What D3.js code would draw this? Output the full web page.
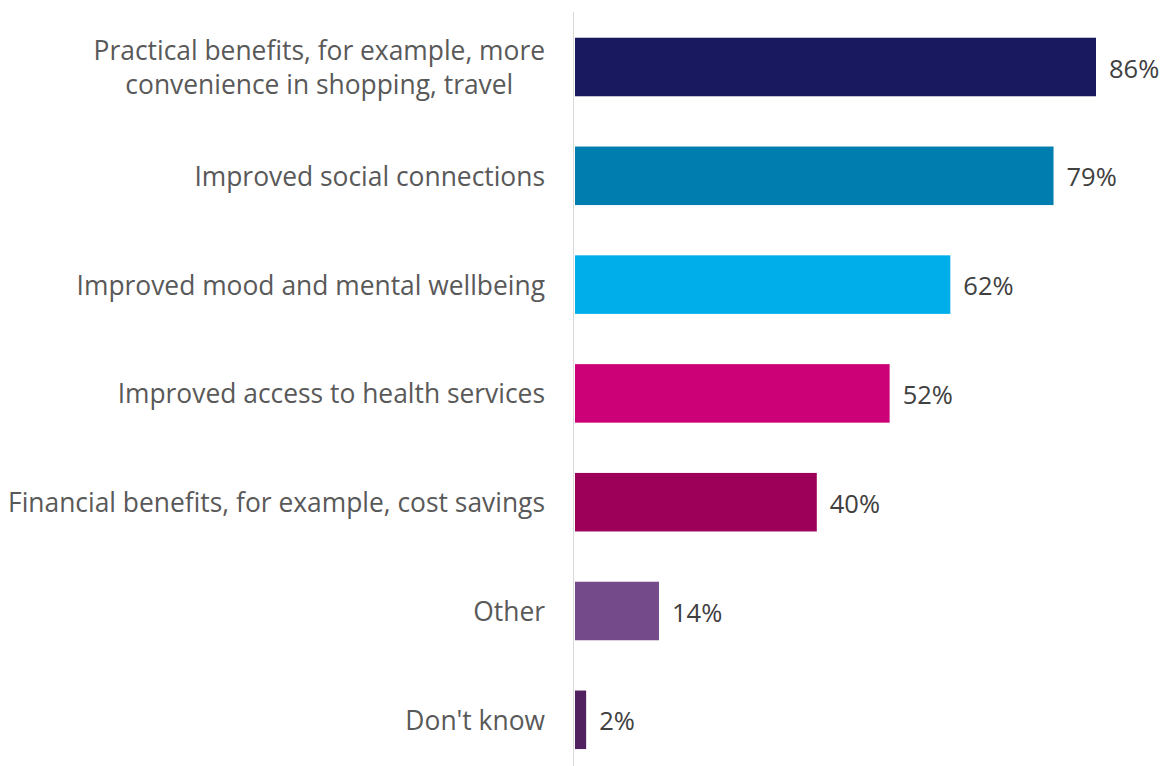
<!DOCTYPE html>
<html><head><meta charset="utf-8">
<script src="https://cdn.jsdelivr.net/npm/d3@7"></script>
<style>html,body{margin:0;padding:0;background:#fff;}svg{display:block;}</style>
</head><body>
<svg id="chart" width="1167" height="766"></svg>
<script>
const categories = [
  ["Practical benefits, for example, more", "convenience in shopping, travel"],
  ["Improved social connections"],
  ["Improved mood and mental wellbeing"],
  ["Improved access to health services"],
  ["Financial benefits, for example, cost savings"],
  ["Other"],
  ["Don't know"]
];
const values = [86, 79, 62, 52, 40, 14, 2];
const valueLabels = ["86%", "79%", "62%", "52%", "40%", "14%", "2%"];
const colors = ["#19195f", "#007daf", "#00aeea", "#cc0077", "#9c0058", "#744a8b", "#50205f"];

const svg = d3.select("#chart");
const font = "'Open Sans', sans-serif";
const x = d3.scaleLinear().domain([0, 86]).range([574, 1096]);
const y = d3.scaleBand().domain(d3.range(values.length)).range([12.6, 774.2]).paddingInner(0.462).paddingOuter(0.231);

svg.append("line").attr("x1", 573.5).attr("x2", 573.5).attr("y1", 12).attr("y2", 766)
  .attr("stroke", "#d9d9d9").attr("stroke-width", 1);

svg.selectAll("rect.bar").data(values).join("rect").attr("class", "bar")
  .attr("x", x(0) + 1).attr("y", (d, i) => y(i))
  .attr("width", d => x(d) - x(0) - 1).attr("height", y.bandwidth())
  .attr("fill", (d, i) => colors[i]);

svg.selectAll("text.val").data(values).join("text").attr("class", "val")
  .attr("x", d => x(d) + 13).attr("y", (d, i) => y(i) + y.bandwidth() / 2 + 10.5)
  .attr("font-family", font).attr("font-size", 25.5)
  .attr("fill", "#404040").text((d, i) => valueLabels[i]);

const labelRight = 545;
categories.forEach((lines, i) => {
  const cy = y(i) + y.bandwidth() / 2;
  const g = svg.append("g");
  const lh = 34;
  const ts = lines.map((l, j) => g.append("text")
    .attr("y", cy + 10 + (j - (lines.length - 1) / 2) * lh)
    .attr("font-family", font).attr("font-size", 26.4).attr("fill", "#595959").text(l));
  const maxW = d3.max(ts, t => t.node().getComputedTextLength());
  ts.forEach(t => t.attr("text-anchor", "middle").attr("x", labelRight - maxW / 2));
});
</script>
</body></html>
